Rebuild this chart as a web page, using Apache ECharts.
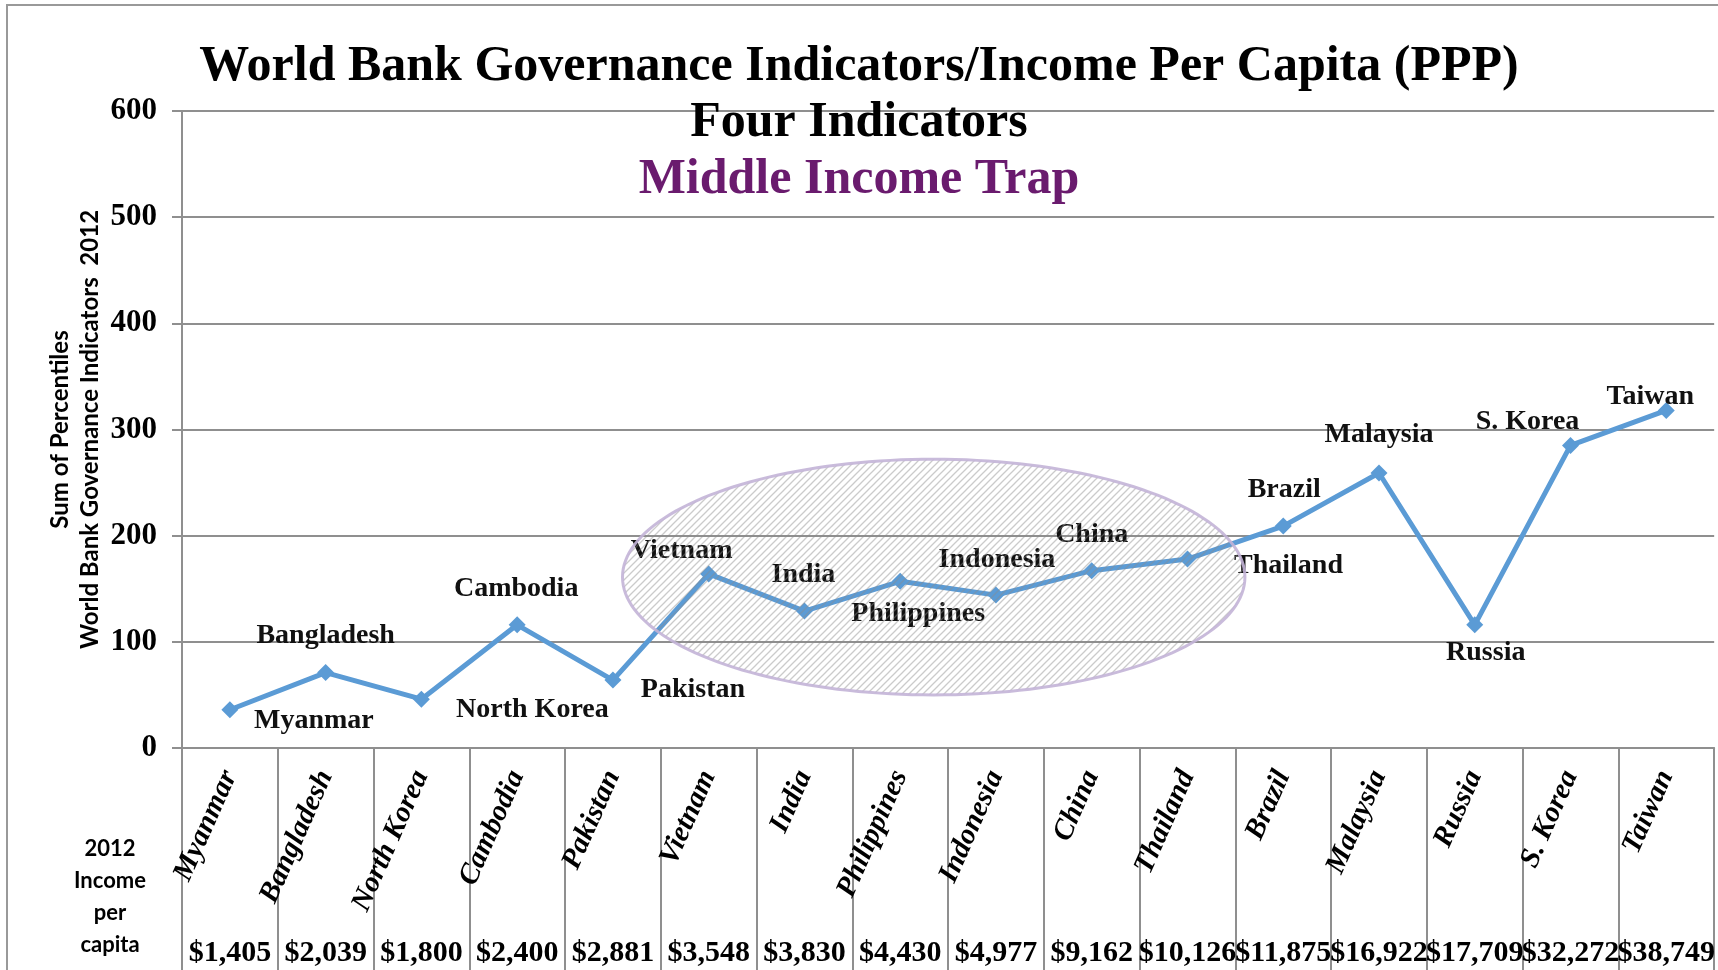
<!DOCTYPE html>
<html><head><meta charset="utf-8">
<script src="https://cdn.jsdelivr.net/npm/echarts@6/dist/echarts.min.js"></script>
<style>html,body{margin:0;padding:0;background:#fff}#c{width:1718px;height:970px}</style>
</head><body><div id="c"></div>
<script>
const countries = ['Myanmar','Bangladesh','North Korea','Cambodia','Pakistan','Vietnam','India','Philippines','Indonesia','China','Thailand','Brazil','Malaysia','Russia','S. Korea','Taiwan'];
const governanceSum = [36,71,46,116,64,164,129,157,144,167,178,209,259,116,285,318];
const incomePerCapita = ['$1,405','$2,039','$1,800','$2,400','$2,881','$3,548','$3,830','$4,430','$4,977','$9,162','$10,126','$11,875','$16,922','$17,709','$32,272','$38,749'];
const yTicks = [0,100,200,300,400,500,600];
const titleLines = ['World Bank Governance Indicators/Income Per Capita (PPP)','Four Indicators','Middle Income Trap'];
const yAxisName = ['Sum of Percentiles','World Bank Governance Indicators  2012'];
const incomeHeader = ['2012','Income','per','capita'];

// label offsets (style, px) relative to each point
const labelOffsets = [[84,11],[0,-37],[111,11],[-1,-36],[80,10],[-27,-23],[-1,-36],[18,32],[1,-35],[0,-36],[101,7],[1,-36],[0,-38],[11,28],[-43,-24],[-16,-14]];
// ellipse annotation in data units: center category index, center value, half width (categories), half height (value)
const trapEllipse = {cx: 7.35, cy: 161, rx: 3.25, ry: 111};

const SERIF = '"Liberation Serif", "Times New Roman", serif';
const SANS = 'Lato, "Liberation Sans", sans-serif';
const GRID = '#8f8f8f';

const chart = echarts.init(document.getElementById('c'));
const option = {
  backgroundColor: '#fff',
  animation: false,
  title: titleLines.map((t, i) => ({
    text: t, left: 'center', top: [37, 93, 150][i],
    textStyle: {fontFamily: SERIF, fontWeight: 'bold', fontSize: 50, lineHeight: 50, color: i === 2 ? '#6a1b6e' : '#000'}
  })),
  grid: {left: 182, right: 3, top: 111, bottom: 222, containLabel: false},
  xAxis: [{
    type: 'category', data: countries, boundaryGap: true,
    axisLine: {lineStyle: {color: GRID, width: 2}},
    axisTick: {show: true, interval: 0, length: 222, lineStyle: {color: GRID, width: 2}},
    axisLabel: {interval: 0, rotate: 66, margin: 24, fontFamily: SERIF, fontWeight: 'bold', fontStyle: 'italic', fontSize: 29, color: '#000'}
  }, {
    type: 'category', data: incomePerCapita, position: 'bottom', boundaryGap: true,
    axisLine: {show: false}, axisTick: {show: false},
    axisLabel: {interval: 0, margin: 205, verticalAlign: 'middle', hideOverlap: false, fontFamily: SERIF, fontWeight: 'bold', fontSize: 30, color: '#000'}
  }],
  yAxis: {
    type: 'value', min: yTicks[0], max: yTicks[yTicks.length - 1], interval: 100,
    name: yAxisName.join('\n'), nameLocation: 'middle', nameRotate: 90, nameGap: 77, nameMoveOverlap: false,
    nameTextStyle: {fontFamily: SANS, fontWeight: 'bold', fontSize: 24, lineHeight: 30, color: '#000'},
    axisLine: {show: true, lineStyle: {color: GRID, width: 2}},
    axisTick: {show: true, length: 10, lineStyle: {color: GRID, width: 2}},
    axisLabel: {margin: 25, fontFamily: SERIF, fontWeight: 'bold', fontSize: 31, color: '#000'},
    splitLine: {lineStyle: {color: GRID, width: 2}}
  },
  series: [{
    type: 'line',
    data: governanceSum.map((v, i) => ({
      value: v,
      label: {offset: labelOffsets[i], formatter: countries[i]}
    })),
    symbol: 'diamond', symbolSize: 17,
    lineStyle: {color: '#5b9bd5', width: 5},
    itemStyle: {color: '#5b9bd5'},
    label: {show: true, position: 'inside', distance: 0, fontFamily: SERIF, fontWeight: 'bold', fontSize: 28, color: '#111'},
    z: 3
  }]
};
chart.setOption(option);

// hatch pattern
const T = 7;
const pat = document.createElement('canvas');
pat.width = T; pat.height = T;
const pc = pat.getContext('2d');
pc.strokeStyle = 'rgba(140,140,140,0.45)';
pc.lineWidth = 1.3;
pc.beginPath();
pc.moveTo(0, T); pc.lineTo(T, 0);
pc.moveTo(-1, 1); pc.lineTo(1, -1);
pc.moveTo(T - 1, T + 1); pc.lineTo(T + 1, T - 1);
pc.stroke();

const p0 = chart.convertToPixel({xAxisIndex: 0, yAxisIndex: 0}, [0, 0]);
const p1 = chart.convertToPixel({xAxisIndex: 0, yAxisIndex: 0}, [1, 100]);
const stepX = p1[0] - p0[0];
const stepY = (p0[1] - p1[1]) / 100;
const ecx = p0[0] + trapEllipse.cx * stepX;
const ecy = p0[1] - trapEllipse.cy * stepY;
const erx = trapEllipse.rx * stepX;
const ery = trapEllipse.ry * stepY;
const pts = [];
for (let k = 0; k < 180; k++) {
  const a = k / 180 * Math.PI * 2;
  pts.push([ecx + erx * Math.cos(a), ecy + ery * Math.sin(a)]);
}
chart.setOption({
  graphic: [
    {type: 'polygon', z: 100, shape: {points: pts}, style: {fill: {image: pat, repeat: 'repeat'}, stroke: 'rgba(195,180,215,0.9)', lineWidth: 3}, silent: true},
    {type: 'polyline', z: 1, shape: {points: [[7, 970], [7, 5], [1718, 5]]}, style: {stroke: '#999', lineWidth: 2, fill: null}, silent: true},
    ...incomeHeader.map((t, i) => ({
      type: 'text', z: 5, style: {text: t, x: 110, y: 849 + i * 32, textAlign: 'center', textVerticalAlign: 'middle', font: 'bold 22px ' + SANS, fill: '#000'}
    }))
  ]
});
</script>
</body></html>
